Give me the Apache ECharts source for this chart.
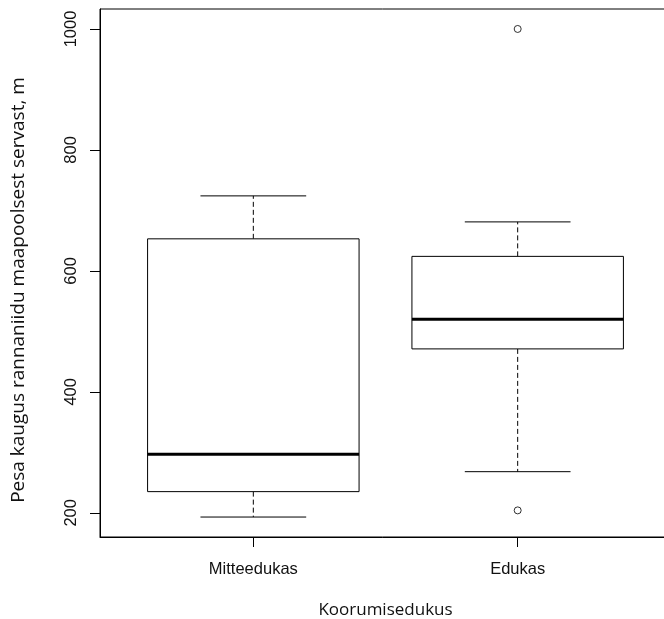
<!DOCTYPE html>
<html>
<head>
<meta charset="utf-8">
<script src="https://cdn.jsdelivr.net/npm/echarts@6/dist/echarts.min.js"></script>
<style>
html,body{margin:0;padding:0;background:#fff;}
#chart{width:664px;height:619px;}
</style>
</head>
<body>
<div id="chart"></div>
<script>
const categories = ['Mitteedukas', 'Edukas'];
const lowWhisker = [193, 268];
const q1 = [235, 471];
const median = [297, 520];
const q3 = [653, 624];
const highWhisker = [724, 681];
const outlierCategory = ['Edukas', 'Edukas'];
const outlierValue = [1000, 204];
const yTicks = [200, 400, 600, 800, 1000];
const xTitle = 'Koorumisedukus';
const yTitle = 'Pesa kaugus rannaniidu maapoolsest servast, m';

const boxData = categories.map((c, i) => [i + 1, lowWhisker[i], q1[i], median[i], q3[i], highWhisker[i]]);
const outData = outlierCategory.map((c, i) => [categories.indexOf(c) + 1, outlierValue[i]]);

const chart = echarts.init(document.getElementById('chart'), null, {renderer: 'canvas'});
const lineCol = '#000';
chart.setOption({
  animation: false,
  backgroundColor: '#fff',
  grid: {left: 100, top: 9, width: 571, height: 528, outerBoundsMode: 'none', containLabel: false,
    show: true, borderColor: '#000', borderWidth: 1, backgroundColor: 'transparent'},
  xAxis: {
    type: 'value', min: 0.42, max: 2.58,
    splitLine: {show: false},
    axisLine: {show: true, lineStyle: {color: '#000', width: 1}},
    axisTick: {show: true, length: 10, customValues: [1, 2], lineStyle: {color: '#000'}},
    axisLabel: {customValues: [1, 2], formatter: v => categories[Math.round(v) - 1] || '', margin: 24,
      fontFamily: 'Liberation Sans', fontSize: 16.5, color: '#111'},
    name: xTitle, nameLocation: 'middle', nameGap: 65,
    nameTextStyle: {fontFamily: 'Open Sans', fontSize: 17, color: '#111'}
  },
  yAxis: {
    type: 'value', min: 160, max: 1033,
    splitLine: {show: false},
    axisLine: {show: true, lineStyle: {color: '#000', width: 1}},
    axisTick: {show: true, length: 10, customValues: yTicks, lineStyle: {color: '#000'}},
    axisLabel: {customValues: yTicks, rotate: 90, margin: 20, align: 'center', verticalAlign: 'bottom',
      formatter: v => String(v),
      fontFamily: 'Liberation Sans', fontSize: 16.5, color: '#111'},
    name: yTitle, nameLocation: 'middle', nameRotate: 90, nameGap: 72,
    nameTextStyle: {fontFamily: 'Open Sans', fontSize: 19, color: '#111', padding: [0, 34, 0, 0]}
  },
  series: [
    {
      type: 'custom',
      data: boxData,
      encode: {x: 0, y: [1, 2, 3, 4, 5]},
      renderItem: function (params, api) {
        const x = api.value(0);
        const pLow = api.coord([x, api.value(1)]);
        const pQ1 = api.coord([x, api.value(2)]);
        const pMed = api.coord([x, api.value(3)]);
        const pQ3 = api.coord([x, api.value(4)]);
        const pHigh = api.coord([x, api.value(5)]);
        const w = api.size([0.8, 0])[0];
        const cx = pMed[0];
        const cap = w / 4;
        const solid = {stroke: lineCol, lineWidth: 1, fill: null};
        const dashed = {stroke: lineCol, lineWidth: 1, lineDash: [5, 3]};
        return {
          type: 'group',
          children: [
            {type: 'line', shape: {x1: cx, y1: pQ3[1], x2: cx, y2: pHigh[1]}, style: dashed},
            {type: 'line', shape: {x1: cx, y1: pQ1[1], x2: cx, y2: pLow[1]}, style: dashed},
            {type: 'line', shape: {x1: cx - cap, y1: pHigh[1], x2: cx + cap, y2: pHigh[1]}, style: solid},
            {type: 'line', shape: {x1: cx - cap, y1: pLow[1], x2: cx + cap, y2: pLow[1]}, style: solid},
            {type: 'rect', shape: {x: cx - w / 2, y: pQ3[1], width: w, height: pQ1[1] - pQ3[1]}, style: {stroke: lineCol, lineWidth: 1, fill: '#fff'}},
            {type: 'line', shape: {x1: cx - w / 2, y1: pMed[1], x2: cx + w / 2, y2: pMed[1]}, style: {stroke: '#000', lineWidth: 3}}
          ]
        };
      }
    },
    {
      type: 'scatter',
      data: outData,
      symbol: 'circle',
      symbolSize: 7,
      itemStyle: {color: '#fff', borderColor: '#000', borderWidth: 1}
    }
  ]
});
</script>
</body>
</html>
